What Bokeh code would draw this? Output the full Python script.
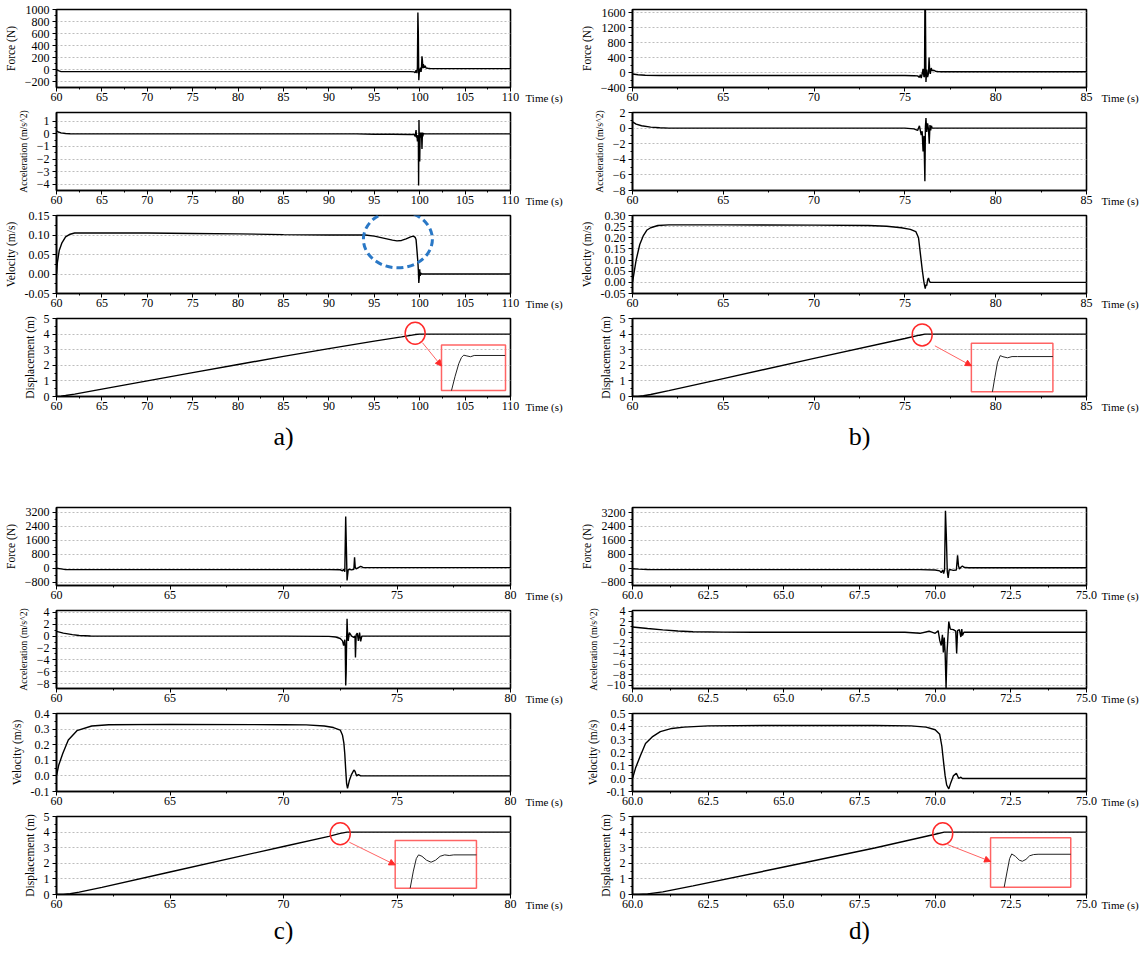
from bokeh.plotting import figure
from bokeh.layouts import column, row
from bokeh.models import (Range1d, FixedTicker, PrintfTickFormatter, Arrow, NormalHead,
                          LinearAxis)
from bokeh.embed import file_html
from bokeh.resources import INLINE

FONT = "Liberation Serif"

# ======================= DATA =======================
disp_ticks = [0, 1, 2, 3, 4, 5]

# ---------- panel a ----------
a_time_ticks = [60, 65, 70, 75, 80, 85, 90, 95, 100, 105, 110]
a_force_ticks = [-200, 0, 200, 400, 600, 800, 1000]
a_acc_ticks = [-4, -3, -2, -1, 0, 1]
a_vel_ticks = [-0.05, 0.0, 0.05, 0.10, 0.15]

a_force_t = [60.0, 60.2, 60.5, 70, 80, 90, 95, 99.0, 99.4, 99.5, 99.6, 99.7, 99.75, 99.8, 99.85,
             99.9, 99.95, 100.0, 100.1, 100.15, 100.2, 100.25, 100.3, 100.35, 100.4, 100.5, 100.6,
             100.7, 100.9, 101.2, 110]
a_force = [0, -20, -35, -35, -35, -35, -35, -35, -40, -55, -10, -60, 40, 950, 600,
           -180, -60, -20, 30, -40, 40, 220, 150, 20, 90, 30, 60,
           25, 20, 15, 15]

a_acc_t = [60.0, 60.2, 60.5, 61.0, 61.5, 62, 80, 93, 95, 97, 99.0, 99.4, 99.5, 99.6, 99.65, 99.7,
           99.75, 99.8, 99.85, 99.88, 99.92, 99.95, 100.0, 100.05, 100.1, 100.2, 100.25, 100.3,
           100.35, 100.4, 100.5, 110]
a_acc = [0.25, 0.15, 0.08, 0.03, 0.01, 0.0, 0.0, 0.0, -0.03, -0.03, -0.05, -0.05, -0.2, 0.3, -0.3, -0.1,
         -0.6, -0.3, -0.1, -4.1, 1.1, -0.5, -2.2, 0.1, -0.3, 0.1, -1.2, 0.1,
         -0.2, 0.05, 0.0, 0.0]

a_vel_t = [60.0, 60.1, 60.3, 60.6, 61.0, 61.5, 62.0, 65, 70, 75, 80, 85, 90, 94, 95, 96, 97, 97.5,
           98, 98.5, 99.0, 99.3, 99.5, 99.6, 99.7, 99.8, 99.85, 99.9, 99.95, 100.0, 100.05, 100.1,
           100.2, 100.3, 110]
a_vel = [0.0, 0.03, 0.06, 0.08, 0.095, 0.102, 0.105, 0.105, 0.105, 0.104, 0.103, 0.101, 0.100, 0.100,
         0.097, 0.092, 0.087, 0.085, 0.086, 0.090, 0.095, 0.097, 0.094, 0.088, 0.06, 0.03, 0.01,
         -0.023, -0.01, 0.012, -0.005, 0.003, 0.0, 0.0, 0.0]

a_disp_t = [60.0, 60.5, 61, 62, 65, 70, 75, 80, 85, 90, 95, 98, 99.5, 100.0, 110]
a_disp = [0.0, 0.02, 0.06, 0.15, 0.47, 1.0, 1.53, 2.05, 2.57, 3.07, 3.55, 3.82, 3.97, 4.0, 4.0]

a_inset_t = [103.5, 103.9, 104.3, 104.6, 104.85, 105.2, 105.6, 106.0, 109.4]
a_inset_d = [0.38, 1.3, 2.1, 2.5, 2.65, 2.6, 2.55, 2.63, 2.63]

# ---------- panel b ----------
b_time_ticks = [60, 65, 70, 75, 80, 85]
b_force_ticks = [-400, 0, 400, 800, 1200, 1600]
b_acc_ticks = [-8, -6, -4, -2, 0, 2]
b_vel_ticks = [-0.05, 0.0, 0.05, 0.10, 0.15, 0.20, 0.25, 0.30]

b_force_t = [60.0, 60.3, 60.7, 61.5, 70, 75.0, 75.5, 75.7, 75.8, 75.85, 75.9, 75.95, 76.0, 76.05,
             76.08, 76.1, 76.13, 76.16, 76.2, 76.25, 76.3, 76.33, 76.36, 76.4, 76.45, 76.5, 76.6,
             76.7, 76.8, 77.0, 85]
b_force = [-40, -60, -75, -80, -80, -80, -85, -90, -130, -60, -150, -40, 100, -120,
           -100, 1700, 1700, -250, 80, -120, -20, 400, 100, -40, 120, 50, 60,
           30, 25, 20, 20]

b_acc_t = [60.0, 60.2, 60.5, 61.0, 61.5, 62.0, 70, 75.0, 75.5, 75.7, 75.8, 75.9, 75.95, 76.0, 76.05,
           76.1, 76.13, 76.16, 76.2, 76.25, 76.3, 76.34, 76.38, 76.42, 76.46, 76.5, 76.6, 85]
b_acc = [0.8, 0.5, 0.3, 0.12, 0.05, 0.0, 0.0, 0.0, -0.1, -0.3, 0.3, -0.9, -0.4, -3.0, -1.0,
         -6.8, 0.2, 1.3, -0.5, 0.6, -0.2, -2.0, 0.4, -0.3, 0.3, 0.0, 0.0, 0.0]

b_vel_t = [60.0, 60.1, 60.2, 60.4, 60.6, 60.8, 61.0, 61.4, 62.0, 65, 70, 73, 74, 74.8, 75.3, 75.6,
           75.75, 75.85, 75.95, 76.05, 76.12, 76.16, 76.2, 76.25, 76.3, 76.35, 76.4, 76.5, 85]
b_vel = [0.0, 0.05, 0.1, 0.17, 0.21, 0.235, 0.245, 0.255, 0.258, 0.258, 0.257, 0.255, 0.252, 0.245,
         0.238, 0.228, 0.2, 0.13, 0.06, 0.0, -0.028, -0.01, -0.015, 0.01, 0.02, 0.005, 0.0, 0.0, 0.0]

b_disp_t = [60.0, 60.3, 60.6, 61, 62, 65, 70, 75, 75.8, 76.1, 85]
b_disp = [0.0, 0.01, 0.05, 0.13, 0.38, 1.15, 2.44, 3.72, 3.93, 4.0, 4.0]

b_inset_t = [79.82, 79.95, 80.1, 80.25, 80.4, 80.65, 80.9, 81.2, 83.15]
b_inset_d = [0.3, 1.2, 2.2, 2.62, 2.55, 2.48, 2.56, 2.56, 2.56]

# ---------- panel c ----------
c_time_ticks = [60, 65, 70, 75, 80]
c_force_ticks = [-800, 0, 800, 1600, 2400, 3200]
c_acc_ticks = [-8, -6, -4, -2, 0, 2, 4]
c_vel_ticks = [-0.1, 0.0, 0.1, 0.2, 0.3, 0.4]

c_force_t = [60.0, 60.2, 60.4, 61, 70, 72.0, 72.5, 72.6, 72.65, 72.7, 72.74, 72.77, 72.8, 72.85,
             72.9, 73.0, 73.1, 73.13, 73.16, 73.2, 73.3, 73.4, 73.5, 73.6, 80]
c_force = [0, -40, -80, -80, -80, -80, -90, -150, -60, -200, 2950, 1200, -700, -100,
           -60, -100, -60, 620, 50, -40, 30, 100, 40, 30, 30]

c_acc_t = [60.0, 60.3, 60.7, 61.0, 61.5, 62, 70, 72.0, 72.3, 72.5, 72.6, 72.65, 72.7, 72.72, 72.74,
           72.76, 72.78, 72.8, 72.82, 72.85, 72.9, 73.0, 73.1, 73.15, 73.17, 73.2, 73.25, 73.3,
           73.35, 73.4, 73.45, 80]
c_acc = [0.8, 0.5, 0.25, 0.1, 0.02, 0.0, 0.0, -0.05, -0.15, -0.4, -0.8, -1.6, -0.6, -1.7, -8.3,
         -6.2, -1.0, 2.9, 0.5, -0.8, 0.6, 0.0, -0.2, 0.0, -3.6, 0.2, 0.5, -0.8,
         0.6, -0.9, 0.0, 0.0]

c_vel_t = [60.0, 60.1, 60.28, 60.52, 60.9, 61.55, 62.3, 65, 70, 71.0, 71.8, 72.2, 72.5, 72.6, 72.66,
           72.7, 72.74, 72.78, 72.82, 72.9, 73.0, 73.1, 73.15, 73.22, 73.3, 73.4, 80]
c_vel = [0.0, 0.07, 0.145, 0.23, 0.29, 0.32, 0.328, 0.33, 0.328, 0.327, 0.32, 0.31, 0.294, 0.26, 0.21,
         0.14, 0.04, -0.05, -0.08, -0.03, 0.01, 0.037, 0.03, 0.0, 0.008, 0.0, 0.0]

c_disp_t = [60.0, 60.3, 60.6, 61, 62, 65, 70, 72, 72.5, 72.8, 80]
c_disp = [0.0, 0.01, 0.05, 0.15, 0.46, 1.44, 3.08, 3.73, 3.92, 4.0, 4.0]

c_inset_t = [75.58, 75.72, 75.85, 75.95, 76.1, 76.3, 76.5, 76.7, 76.9, 77.1, 77.3, 77.5, 78.5]
c_inset_d = [0.4, 1.5, 2.3, 2.54, 2.45, 2.2, 2.07, 2.2, 2.45, 2.54, 2.5, 2.54, 2.54]

# ---------- panel d ----------
d_time_ticks = [60.0, 62.5, 65.0, 67.5, 70.0, 72.5, 75.0]
d_force_ticks = [-800, 0, 800, 1600, 2400, 3200]
d_acc_ticks = [-10, -8, -6, -4, -2, 0, 2, 4]
d_vel_ticks = [-0.1, 0.0, 0.1, 0.2, 0.3, 0.4, 0.5]

d_force_t = [60.0, 60.2, 60.5, 61, 69.5, 70.0, 70.15, 70.2, 70.25, 70.28, 70.31, 70.34, 70.37, 70.4,
             70.43, 70.46, 70.5, 70.6, 70.7, 70.74, 70.77, 70.8, 70.85, 70.9, 70.95, 71.0, 71.1, 75]
d_force = [-30, -50, -70, -80, -80, -100, -150, -250, -100, -300, -100, 3300, 1800, -200,
           -550, -100, -80, -120, -100, 750, 150, -40, 60, 130, 60, 40, 30, 30]

d_acc_t = [60.0, 60.5, 61.0, 61.5, 62.0, 63.0, 64.0, 69.0, 69.5, 69.8, 70.0, 70.1, 70.15, 70.2,
           70.24, 70.27, 70.3, 70.33, 70.36, 70.39, 70.42, 70.45, 70.5, 70.6, 70.68, 70.71, 70.74,
           70.8, 70.85, 70.88, 70.9, 70.95, 75]
d_acc = [1.0, 0.7, 0.45, 0.25, 0.1, 0.03, 0.0, 0.0, -0.2, 0.2, -0.2, 0.3, -1.5, -2.5,
         -0.5, -3.8, -1.0, -4.0, -10.5, -4.0, -1.0, 2.0, 0.6, 0.5, 0.2, -4.0, 0.3,
         0.5, -0.9, 0.6, -0.6, 0.0, 0.0]

d_vel_t = [60.0, 60.1, 60.25, 60.43, 60.65, 60.92, 61.3, 61.7, 62.5, 65, 68, 69.2, 69.7, 70.0, 70.15,
           70.22, 70.28, 70.33, 70.38, 70.45, 70.52, 70.6, 70.7, 70.78, 70.85, 70.9, 71.0, 75]
d_vel = [0.0, 0.08, 0.17, 0.27, 0.32, 0.36, 0.385, 0.395, 0.405, 0.408, 0.408, 0.405, 0.395, 0.375,
         0.34, 0.25, 0.12, 0.02, -0.05, -0.08, -0.03, 0.02, 0.04, 0.0, 0.01, 0.0, 0.0, 0.0]

d_disp_t = [60.0, 60.2, 60.5, 61, 62, 65, 68, 70, 70.3, 75]
d_disp = [0.0, 0.005, 0.04, 0.17, 0.55, 1.76, 2.98, 3.86, 4.0, 4.0]

d_inset_t = [72.28, 72.38, 72.46, 72.53, 72.65, 72.78, 72.88, 73.0, 73.12, 73.25, 73.4, 74.48]
d_inset_d = [0.47, 1.5, 2.3, 2.6, 2.45, 2.2, 2.13, 2.25, 2.48, 2.56, 2.58, 2.58]

# ======================= LAYOUT / STYLE =======================
FW, FH = 454, 78
LINE = "black"
RED = "#ff2a2a"
LRED = "#ff6464"
CAP_POS = 0.05   # fraction of frame height where the "Time (s)" caption block is anchored
TICK_SIZE = "12px"


def minor(ticks):
    return [(ticks[i] + ticks[i + 1]) / 2 for i in range(len(ticks) - 1)]


def add_caption(p):
    # "Time (s)" caption to the right of the time axis (right-side axis label, pushed down
    # by two empty lines so it sits level with the time tick labels)
    p.extra_y_ranges = {"cap": Range1d(0, 1)}
    cap = LinearAxis(y_range_name="cap", ticker=FixedTicker(ticks=[CAP_POS]),
                     major_label_overrides={CAP_POS: "\n\nTime (s)"})
    cap.axis_line_color = None
    cap.major_tick_line_color = None
    cap.minor_tick_line_color = None
    cap.major_label_standoff = 9
    cap.major_label_text_font = FONT
    cap.major_label_text_font_size = "11px"
    cap.major_label_text_color = "black"
    p.add_layout(cap, "right")


def subplot(xr, xticks, xfmt, yr, yticks, yfmt, ylabel, ylabel_size, L, R, T, B, t, y,
            bottom_label=None, bl_size="26px", bl_standoff=10):
    p = figure(frame_width=FW, frame_height=FH,
               x_range=Range1d(*xr), y_range=Range1d(*yr),
               min_border_left=L, min_border_right=R, min_border_top=T, min_border_bottom=B,
               output_backend="svg", toolbar_location=None,
               background_fill_color="white", border_fill_color="white")
    p.outline_line_color = "black"
    p.outline_line_width = 1.6
    p.outline_line_alpha = 1.0

    xt = FixedTicker(ticks=xticks, minor_ticks=minor(xticks))
    yt = FixedTicker(ticks=yticks, minor_ticks=minor(yticks))
    p.xaxis.ticker = xt
    p.yaxis.ticker = yt
    if xfmt:
        p.xaxis.formatter = PrintfTickFormatter(format=xfmt)
    if yfmt:
        p.yaxis.formatter = PrintfTickFormatter(format=yfmt)

    p.xgrid.visible = False
    p.ygrid.ticker = yt
    p.ygrid.grid_line_color = "#bdbdbd"
    p.ygrid.grid_line_dash = "2 2"
    p.ygrid.grid_line_width = 1

    for ax in (p.xaxis[0], p.yaxis[0]):
        ax.axis_line_color = "black"
        ax.axis_line_width = 1.6
        ax.major_tick_line_color = "black"
        ax.minor_tick_line_color = "black"
        ax.major_tick_in = 0
        ax.major_tick_out = 4
        ax.minor_tick_in = 0
        ax.minor_tick_out = 2
        ax.major_label_text_font = FONT
        ax.major_label_text_font_size = TICK_SIZE
        ax.major_label_text_color = "black"
        ax.axis_label_text_font = FONT
        ax.axis_label_text_font_style = "normal"
        ax.axis_label_text_color = "black"
    p.xaxis.major_label_standoff = 1
    p.yaxis.major_label_standoff = 3
    p.yaxis.axis_label = ylabel
    p.yaxis.axis_label_text_font_size = ylabel_size
    p.yaxis.axis_label_standoff = 5
    if bottom_label:
        p.xaxis.axis_label = bottom_label
        p.xaxis.axis_label_text_font_size = bl_size
        p.xaxis.axis_label_standoff = bl_standoff

    add_caption(p)
    p.line(t, y, line_color=LINE, line_width=1.4)
    return p


def panel(name, L, R, tops, bottoms, xr, xticks, xfmt,
          force, acc, vel, disp, inset, circle, rect, arrow, bl_size, bl_standoff):
    (ft, fy, fr, ftk) = force
    (at, ay, ar, atk) = acc
    (vt, vy, vr, vtk, vfmt) = vel
    (dt, dy) = disp
    pf = subplot(xr, xticks, xfmt, fr, ftk, None, "Force (N)", "11.5px",
                 L, R, tops[0], bottoms[0], ft, fy)
    pa = subplot(xr, xticks, xfmt, ar, atk, None, "Acceleration (m/s^2)", "9.8px",
                 L, R, tops[1], bottoms[1], at, ay)
    pv = subplot(xr, xticks, xfmt, vr, vtk, vfmt, "Velocity (m/s)", "11.5px",
                 L, R, tops[2], bottoms[2], vt, vy)
    pd = subplot(xr, xticks, xfmt, (0, 5), disp_ticks, None, "Displacement (m)", "11.5px",
                 L, R, tops[3], bottoms[3], dt, dy,
                 bottom_label=name + ")", bl_size=bl_size, bl_standoff=bl_standoff)
    # zoom marker circle, inset frame, arrow and magnified curve
    pd.ellipse(x=[circle[0]], y=[circle[1]], width=20, height=22, width_units="screen",
               height_units="screen", fill_alpha=0, line_color=RED, line_width=1.5)
    pd.quad(left=[rect[0]], right=[rect[1]], bottom=[rect[2]], top=[rect[3]],
            fill_alpha=0, line_color=LRED, line_width=1.5)
    pd.line(inset[0], inset[1], line_color="#222222", line_width=1.0)
    pd.add_layout(Arrow(end=NormalHead(size=6, fill_color=RED, line_color=RED),
                        x_start=arrow[0], y_start=arrow[1], x_end=arrow[2], y_end=arrow[3],
                        line_color=LRED, line_width=1))
    return [pf, pa, pv, pd]


TOP_T = [9, 5, 5, 5]
TOP_B = [20, 20, 20, 54]
BOT_T = [54, 5, 5, 5]
BOT_B = [20, 20, 20, 48]

figs_a = panel("a", 56, 48, TOP_T, TOP_B, (60, 110), a_time_ticks, None,
               (a_force_t, a_force, (-300, 1000), a_force_ticks),
               (a_acc_t, a_acc, (-4.5, 1.7), a_acc_ticks),
               (a_vel_t, a_vel, (-0.05, 0.15), a_vel_ticks, "%.2f"),
               (a_disp_t, a_disp), (a_inset_t, a_inset_d),
               (99.5, 4.05), (102.4, 109.45, 0.38, 3.3), (100.3, 3.45, 102.4, 1.95),
               "26px", 9)
# highlighted region in velocity of panel a
figs_a[2].ellipse(x=[97.6], y=[0.089], width=69, height=57, width_units="screen",
                  height_units="screen", fill_alpha=0, line_color="#2a78c6",
                  line_width=3, line_dash="7 4")

figs_b = panel("b", 67, 48, TOP_T, TOP_B, (60, 85), b_time_ticks, None,
               (b_force_t, b_force, (-400, 1680), b_force_ticks),
               (b_acc_t, b_acc, (-8, 2), b_acc_ticks),
               (b_vel_t, b_vel, (-0.05, 0.30), b_vel_ticks, "%.2f"),
               (b_disp_t, b_disp), (b_inset_t, b_inset_d),
               (75.95, 3.95), (78.66, 83.15, 0.30, 3.42), (76.65, 3.25, 78.66, 1.97),
               "26px", 9)

figs_c = panel("c", 56, 48, BOT_T, BOT_B, (60, 80), c_time_ticks, None,
               (c_force_t, c_force, (-990, 3470), c_force_ticks),
               (c_acc_t, c_acc, (-8.8, 4.3), c_acc_ticks),
               (c_vel_t, c_vel, (-0.1, 0.4), c_vel_ticks, "%.1f"),
               (c_disp_t, c_disp), (c_inset_t, c_inset_d),
               (72.5, 3.9), (74.92, 78.5, 0.40, 3.46), (72.9, 3.35, 74.92, 1.9),
               "25px", 6)

figs_d = panel("d", 67, 48, BOT_T, BOT_B, (60, 75), d_time_ticks, "%.1f",
               (d_force_t, d_force, (-990, 3490), d_force_ticks),
               (d_acc_t, d_acc, (-10.6, 4.1), d_acc_ticks),
               (d_vel_t, d_vel, (-0.1, 0.5), d_vel_ticks, "%.1f"),
               (d_disp_t, d_disp), (d_inset_t, d_inset_d),
               (70.25, 3.9), (71.83, 74.48, 0.47, 3.63), (70.41, 3.2, 71.83, 2.12),
               "25px", 6)

layout = column(row(column(*figs_a), column(*figs_b)),
                row(column(*figs_c), column(*figs_d)))

open("out.html", "w").write(file_html(layout, INLINE))
